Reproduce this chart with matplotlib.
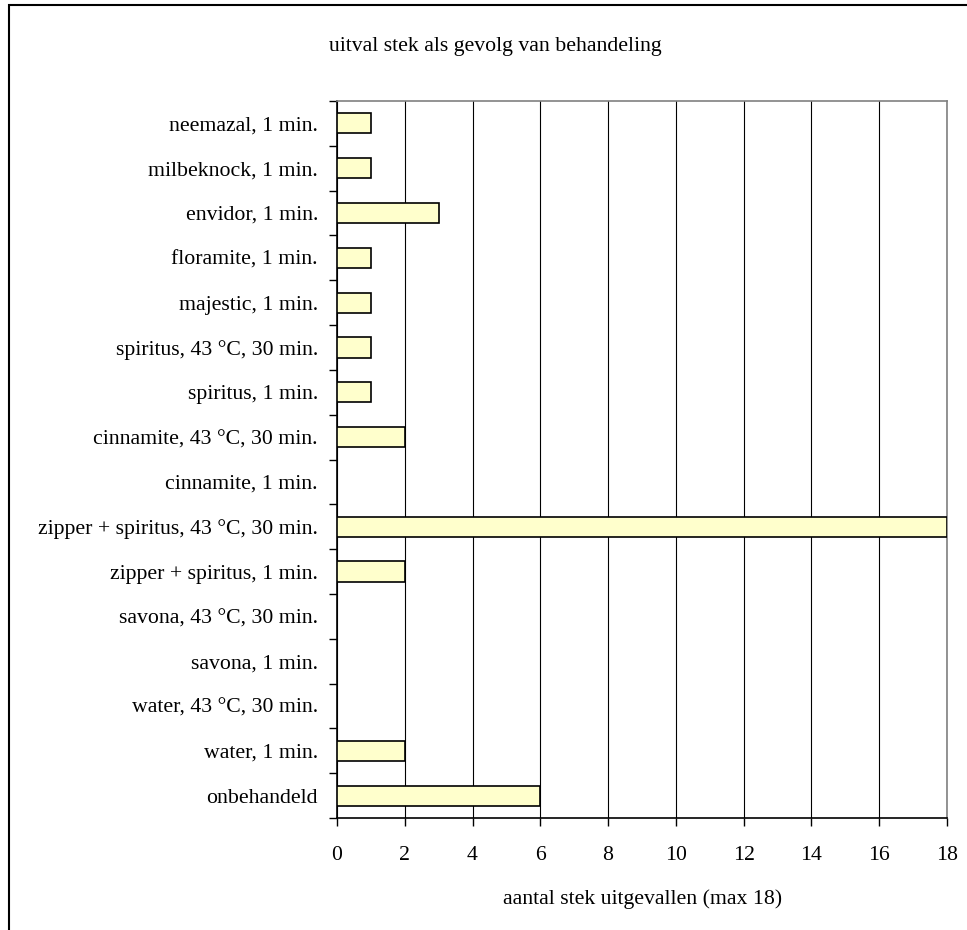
import matplotlib
matplotlib.use("Agg")
import matplotlib.pyplot as plt
from matplotlib.patches import Rectangle

categories = [
    "onbehandeld",
    "water, 1 min.",
    "water, 43 \u00b0C, 30 min.",
    "savona, 1 min.",
    "savona, 43 \u00b0C, 30 min.",
    "zipper + spiritus, 1 min.",
    "zipper + spiritus, 43 \u00b0C, 30 min.",
    "cinnamite, 1 min.",
    "cinnamite, 43 \u00b0C, 30 min.",
    "spiritus, 1 min.",
    "spiritus, 43 \u00b0C, 30 min.",
    "majestic, 1 min.",
    "floramite, 1 min.",
    "envidor, 1 min.",
    "milbeknock, 1 min.",
    "neemazal, 1 min.",
]
values = [6, 2, 0, 0, 0, 2, 18, 0, 2, 1, 1, 1, 1, 3, 1, 1]
x_ticks = [0, 2, 4, 6, 8, 10, 12, 14, 16, 18]

title = "uitval stek als gevolg van behandeling"
x_label = "aantal stek uitgevallen (max 18)"

plt.rcParams["font.family"] = ["Liberation Serif", "DejaVu Serif"]
FS = 15.7

W, H = 967, 930
fig = plt.figure(figsize=(W / 100, H / 100), dpi=100)

# outer chart frame (right and bottom edges fall outside the canvas)
fig.patches.append(Rectangle((9 / W, -0.1), 1.2, 1 - 5 / H + 0.1,
                             transform=fig.transFigure, fill=False,
                             edgecolor="black", linewidth=1.5))

left, right, top, bottom = 337, 947, 101, 818
ax = fig.add_axes([left / W, 1 - bottom / H, (right - left) / W, (bottom - top) / H])

n = len(categories)
ypos = list(range(n))
ax.barh(ypos, values, height=0.45, color="#FFFFCC", edgecolor="black",
        linewidth=1.2, zorder=3)

ax.set_xlim(0, 18)
ax.set_ylim(-0.5, n - 0.5)
ax.set_xticks(x_ticks)
ax.set_xticklabels([str(t) for t in x_ticks], fontsize=FS)
ax.tick_params(axis="x", direction="out", length=6, width=1, pad=14)

ax.set_yticks(ypos)
ax.set_yticklabels(categories, fontsize=FS)
ax.tick_params(axis="y", which="major", length=0, pad=13.7)
ax.set_yticks([i - 0.5 for i in range(n + 1)], minor=True)
ax.tick_params(axis="y", which="minor", direction="out", length=6, width=1)

ax.grid(axis="x", color="black", linewidth=0.8, zorder=0)
for s in ["top", "right"]:
    ax.spines[s].set_color("#808080")
    ax.spines[s].set_linewidth(1.2)
for s in ["left", "bottom"]:
    ax.spines[s].set_color("black")
    ax.spines[s].set_linewidth(1.2)

fig.text(495 / W, 1 - 46 / H, title, ha="center", va="center", fontsize=FS)
fig.text(643 / W, 1 - 899 / H, x_label, ha="center", va="center", fontsize=FS)

fig.savefig("out.png", dpi=100)
